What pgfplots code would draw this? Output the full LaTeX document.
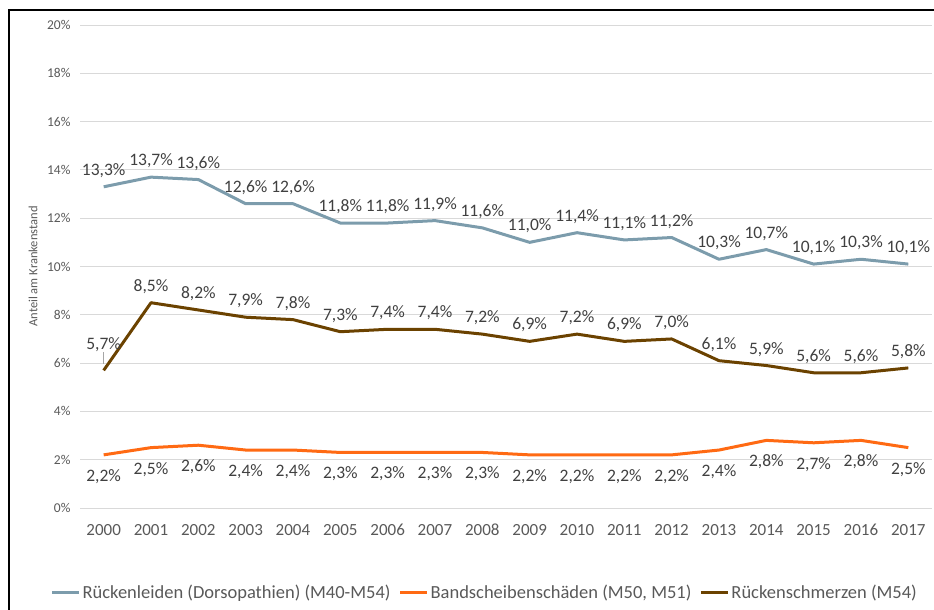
\documentclass[border=0pt]{standalone}
\usepackage{pgfplots}
\pgfplotsset{compat=1.18}
\usepackage{fontspec}
\setmainfont{Carlito}
\definecolor{cBlue}{HTML}{7C9CAC}
\definecolor{cOrange}{HTML}{FF6A13}
\definecolor{cBrown}{HTML}{6B4200}
\definecolor{cTick}{HTML}{595959}
\definecolor{cLab}{HTML}{404040}
\definecolor{cGrid}{HTML}{D9D9D9}
\begin{document}
\begin{tikzpicture}
\path[use as bounding box] (0bp,0bp) rectangle (934bp,610bp);
\draw[black, line width=2bp] (9bp,0bp) -- (9bp,600bp) -- (934bp,600bp);
\begin{axis}[
  at={(80bp,102bp)}, anchor=south west,
  scale only axis, width=852bp, height=483bp,
  xmin=1999.5, xmax=2017.5, ymin=0, ymax=20,
  xtick={2000,...,2017}, ytick={0,2,...,20},
  /pgf/number format/assume math mode=true,
  /pgf/number format/1000 sep={},
  yticklabel={\pgfmathprintnumber{\tick}\%},
  ymajorgrids, grid style={cGrid, line width=0.9bp},
  axis line style={draw=none}, major tick length=0pt,
  xticklabel style={font=\fontsize{17bp}{19bp}\selectfont, text=cTick, anchor=center, text height=11bp, text depth=0bp, yshift=-22bp},
  yticklabel style={font=\fontsize{13.5bp}{15bp}\selectfont, text=cTick, xshift=-6bp},
  ylabel={Anteil am Krankenstand},
  ylabel style={at={(axis description cs:-0.055,0.5)}, anchor=center, font=\fontsize{12.5bp}{14bp}\selectfont, text=cTick},
  legend columns=3,
  legend style={at={(0.475,-0.174)}, anchor=center, draw=none, fill=none,
    font=\fontsize{18.5bp}{20bp}\selectfont, text=cTick,
    /tikz/every even column/.append style={column sep=6bp}},
  legend image code/.code={\draw[#1] (0bp,0bp) -- (27bp,0bp);},
  nodes near coords={\pgfmathprintnumber[fixed,fixed zerofill,precision=1,use comma]{\pgfplotspointmeta}\%},
  every node near coord/.append style={font=\fontsize{17.5bp}{19bp}\selectfont, text=cLab, anchor=center, text height=11bp, text depth=0bp},
]
\addplot[cBlue, line width=3bp, line join=round, mark=none,
  every node near coord/.append style={yshift=17bp}] coordinates {
 (2000,13.3)(2001,13.7)(2002,13.6)(2003,12.6)(2004,12.6)(2005,11.8)(2006,11.8)(2007,11.9)(2008,11.6)
 (2009,11.0)(2010,11.4)(2011,11.1)(2012,11.2)(2013,10.3)(2014,10.7)(2015,10.1)(2016,10.3)(2017,10.1)};
\addlegendentry{Rückenleiden (Dorsopathien) (M40-M54)}
\addplot[cOrange, line width=3bp, line join=round, mark=none,
  every node near coord/.append style={yshift=-21bp}] coordinates {
 (2000,2.2)(2001,2.5)(2002,2.6)(2003,2.4)(2004,2.4)(2005,2.3)(2006,2.3)(2007,2.3)(2008,2.3)
 (2009,2.2)(2010,2.2)(2011,2.2)(2012,2.2)(2013,2.4)(2014,2.8)(2015,2.7)(2016,2.8)(2017,2.5)};
\addlegendentry{Bandscheibenschäden (M50, M51)}
\addplot[cBrown, line width=3bp, line join=round, mark=none, nodes near coords={}] coordinates {
 (2000,5.7)(2001,8.5)(2002,8.2)(2003,7.9)(2004,7.8)(2005,7.3)(2006,7.4)(2007,7.4)(2008,7.2)
 (2009,6.9)(2010,7.2)(2011,6.9)(2012,7.0)(2013,6.1)(2014,5.9)(2015,5.6)(2016,5.6)(2017,5.8)};
\addlegendentry{Rückenschmerzen (M54)}
\addplot[draw=none, mark=none, forget plot,
  every node near coord/.append style={yshift=17bp}] coordinates {
 (2001,8.5)(2002,8.2)(2003,7.9)(2004,7.8)(2005,7.3)(2006,7.4)(2007,7.4)(2008,7.2)
 (2009,6.9)(2010,7.2)(2011,6.9)(2012,7.0)(2013,6.1)(2014,5.9)(2015,5.6)(2016,5.6)(2017,5.8)};
\addplot[draw=none, mark=none, forget plot,
  every node near coord/.append style={yshift=26bp}] coordinates {(2000,5.7)};
\draw[gray!70, line width=0.6bp] (axis cs:2000,6.45) -- (axis cs:2000,5.95);
\end{axis}
\end{tikzpicture}
\end{document}
